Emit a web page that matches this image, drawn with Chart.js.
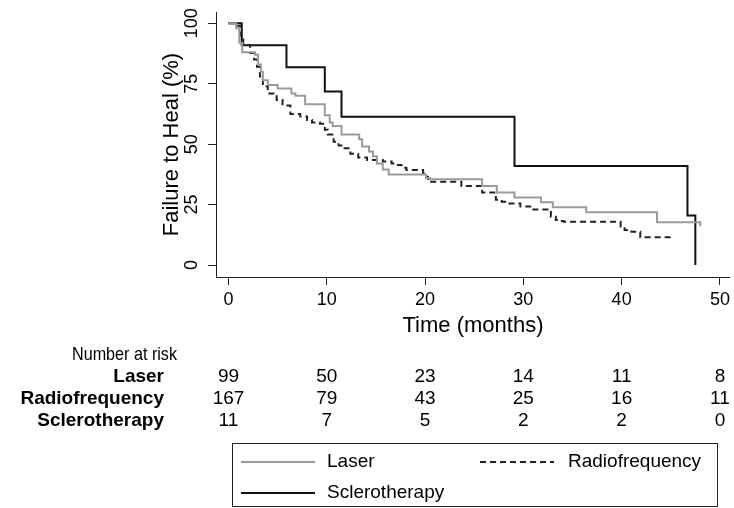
<!DOCTYPE html>
<html lang="en">
<head>
  <meta charset="UTF-8">
  <title>Failure to Heal - Kaplan-Meier</title>
  <script src="https://cdn.jsdelivr.net/npm/chart.js"></script>
  <style>
    html, body { margin: 0; padding: 0; background: #fff; }
    #wrap { width: 734px; height: 508px; }
  </style>
</head>
<body>
  <div id="wrap"><canvas id="kmChart" width="734" height="508"></canvas></div>
  <script>
    // Tick labels
    const xTicks = [0, 10, 20, 30, 40, 50];
    const yTicks = [0, 25, 50, 75, 100];

    // Laser (gray solid) - time in months, failure to heal in %
    const laserTime = [0, 0.8, 1.1, 1.4, 2.7, 3.0, 3.3, 3.5, 4.0, 5.0, 6.4, 6.8, 7.8, 9.8, 10.3, 10.6, 11.5, 13.3, 13.6, 14.3, 14.7, 15.1, 15.7, 16.3, 20.1, 20.5, 25.8, 27.3, 29.1, 31.8, 33.0, 36.4, 43.6, 48.0];
    const laserPct  = [100, 98, 92, 88, 87, 83, 80, 76.5, 74.5, 73, 71, 70, 66.5, 62, 59, 57.5, 54, 52, 49, 47, 45, 42, 39.5, 37.5, 36, 35.5, 32.7, 30, 27.9, 26, 23.9, 21.8, 17.7, 16];

    // Radiofrequency (black dashed)
    const rfTime = [0, 0.8, 1.2, 1.5, 2.2, 2.6, 2.9, 3.2, 3.5, 4.0, 4.9, 5.5, 6.3, 7.3, 8.0, 8.5, 9.3, 9.8, 10.1, 10.7, 11.2, 11.7, 12.4, 13.2, 14.1, 15.7, 16.6, 17.1, 17.6, 18.1, 19.8, 20.1, 20.3, 20.5, 23.7, 25.8, 27.2, 27.8, 28.3, 29.7, 30.7, 32.8, 33.3, 33.8, 34.1, 39.9, 40.3, 41.0, 41.9, 45.1];
    const rfPct  = [100, 99, 95, 91, 87.7, 85, 82, 78, 74, 71, 68.3, 66, 62.5, 61.5, 60, 59, 58.5, 56, 54, 51, 49.5, 48.3, 46, 44.5, 43.5, 42.8, 42, 41.4, 40.3, 39.3, 38, 36.5, 35.2, 34.5, 32.7, 30, 27, 26.2, 25.5, 24.2, 23, 20, 18.6, 18.2, 17.9, 15.9, 14.5, 13.8, 11.5, 11.5];

    // Sclerotherapy (black solid)
    const scleroTime = [0, 1.35, 5.9, 9.8, 11.5, 29.1, 46.7, 47.5];
    const scleroPct  = [100, 90.9, 81.8, 71.8, 61.4, 41.0, 20.5, 0];

    // Number at risk table
    const riskGroups = ['Laser', 'Radiofrequency', 'Sclerotherapy'];
    const riskLaser  = [99, 50, 23, 14, 11, 8];
    const riskRF     = [167, 79, 43, 25, 16, 11];
    const riskSclero = [11, 7, 5, 2, 2, 0];

    const FONT = "'Liberation Sans', Arial, Helvetica, sans-serif";

    function toPoints(times, pcts) {
      return times.map((t, i) => ({ x: t, y: pcts[i] }));
    }

    // Draws the "Number at risk" table under the x axis
    const riskTablePlugin = {
      id: 'riskTable',
      afterDraw(chart) {
        const ctx = chart.ctx;
        const xs = chart.scales.x;
        const rows = [riskLaser, riskRF, riskSclero];
        ctx.save();
        ctx.fillStyle = '#000';
        ctx.textBaseline = 'middle';
        ctx.font = '19px ' + FONT;
        ctx.textAlign = 'left';
        // condensed, like the original's narrow title
        ctx.fillText('Number at risk', 72, 355, 105);
        rows.forEach((row, r) => {
          const y = 377 + r * 22;
          ctx.font = 'bold 19px ' + FONT;
          ctx.textAlign = 'right';
          ctx.fillText(riskGroups[r], 164, y);
          ctx.font = '19px ' + FONT;
          ctx.textAlign = 'center';
          row.forEach((n, i) => {
            ctx.fillText(String(n), xs.getPixelForValue(xTicks[i]), y);
          });
        });
        ctx.restore();
      }
    };

    // Boxed legend at the bottom
    const boxLegendPlugin = {
      id: 'boxLegend',
      afterDraw(chart) {
        const ctx = chart.ctx;
        const ds = chart.data.datasets;
        const spots = [
          { x: 241, y: 462, tx: 327 },
          { x: 480, y: 462, tx: 568 },
          { x: 241, y: 493, tx: 327 }
        ];
        ctx.save();
        ctx.strokeStyle = '#222';
        ctx.lineWidth = 1;
        ctx.strokeRect(232.5, 443.5, 485, 63);
        ds.forEach((d, i) => {
          const s = spots[i];
          ctx.beginPath();
          ctx.strokeStyle = d.borderColor;
          ctx.lineWidth = d.borderWidth;
          ctx.setLineDash(d.borderDash || []);
          ctx.moveTo(s.x, s.y);
          ctx.lineTo(s.x + 74, s.y);
          ctx.stroke();
          ctx.setLineDash([]);
          ctx.fillStyle = '#000';
          ctx.font = '19px ' + FONT;
          ctx.textAlign = 'left';
          ctx.textBaseline = 'middle';
          ctx.fillText(d.label, s.tx, s.y);
        });
        ctx.restore();
      }
    };

    new Chart(document.getElementById('kmChart'), {
      type: 'line',
      data: {
        datasets: [
          {
            label: 'Laser',
            data: toPoints(laserTime, laserPct),
            borderColor: '#9a9a9a',
            borderWidth: 2,
            stepped: true,
            pointRadius: 0,
            fill: false
          },
          {
            label: 'Radiofrequency',
            data: toPoints(rfTime, rfPct),
            borderColor: '#222',
            borderWidth: 2,
            borderDash: [6, 4],
            stepped: true,
            pointRadius: 0,
            fill: false
          },
          {
            label: 'Sclerotherapy',
            data: toPoints(scleroTime, scleroPct),
            borderColor: '#111',
            borderWidth: 2,
            stepped: true,
            pointRadius: 0,
            fill: false
          }
        ]
      },
      options: {
        responsive: false,
        animation: false,
        layout: { padding: { left: 0, top: 12, right: 4, bottom: 171 } },
        plugins: {
          legend: { display: false },
          tooltip: { enabled: false }
        },
        scales: {
          x: {
            type: 'linear',
            min: -1.27,
            max: 51.02,
            afterBuildTicks: s => { s.ticks = xTicks.map(v => ({ value: v })); },
            afterFit: s => { s.height = 60; },
            grid: { drawOnChartArea: false, drawTicks: true, tickLength: 8, color: '#222' },
            border: { display: true, color: '#222', width: 1 },
            ticks: { color: '#000', font: { family: FONT, size: 18 }, padding: 4, maxRotation: 0, autoSkip: false },
            title: {
              display: true, text: 'Time (months)', color: '#000',
              font: { family: FONT, size: 22, lineHeight: 1 }, padding: { top: 0, bottom: 0 }
            }
          },
          y: {
            type: 'linear',
            min: -4.96,
            max: 104.7,
            afterBuildTicks: s => { s.ticks = yTicks.map(v => ({ value: v })); },
            afterFit: s => { s.width = 216; },
            grid: { drawOnChartArea: false, drawTicks: true, tickLength: 8, color: '#222' },
            border: { display: true, color: '#222', width: 1 },
            ticks: {
              color: '#000', font: { family: FONT, size: 18 }, padding: 1,
              minRotation: 90, maxRotation: 90, crossAlign: 'center', autoSkip: false
            },
            title: {
              display: true, text: 'Failure to Heal (%)', color: '#000',
              font: { family: FONT, size: 22, lineHeight: 1 }, padding: { top: 161, bottom: 0 }
            }
          }
        }
      },
      plugins: [riskTablePlugin, boxLegendPlugin]
    });
  </script>
</body>
</html>
